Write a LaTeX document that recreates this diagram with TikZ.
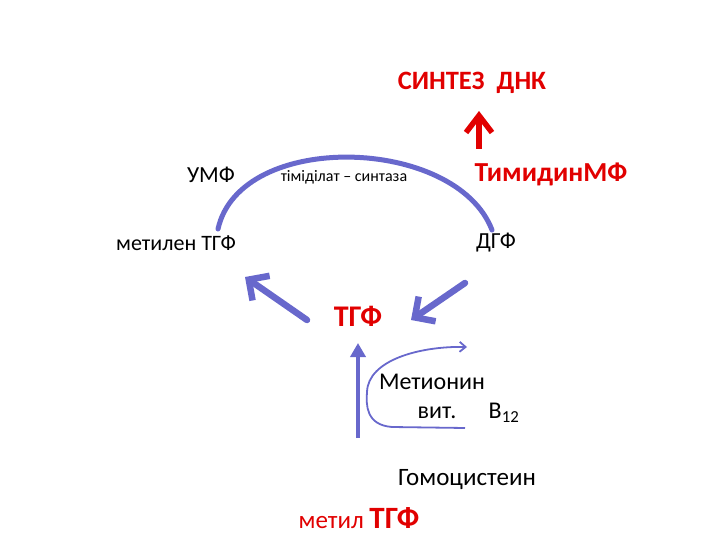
\documentclass[tikz,border=0pt]{standalone}
\usepackage{fontspec}
\setmainfont{Carlito}
\usetikzlibrary{arrows.meta}
\definecolor{arcblue}{RGB}{104,104,204}
\definecolor{dred}{RGB}{225,0,0}
\tikzset{
  lbl/.style={inner sep=0pt, font=\fontsize{23}{27}\selectfont},
  redlbl/.style={lbl, text=dred, font=\fontsize{30}{34}\selectfont\bfseries},
  bigarrow/.style={draw=arcblue, line width=6.5pt, line cap=round, -{Straight Barb[length=15pt, width=30pt, line width=6.5pt]}},
  thinarrow/.style={draw=arcblue, line width=1.8pt, -{Straight Barb[length=6pt, width=10pt]}}
}
\begin{document}
\begin{tikzpicture}[x=1pt,y=-1pt]
\useasboundingbox (0,0) rectangle (720,540);
\node[redlbl, font=\fontsize{26.5}{30}\selectfont\bfseries] (dna) at (472,83) {СИНТЕЗ\ \ ДНК};
\node[lbl] (ump) at (211,175) {УМФ};
\node[lbl, font=\fontsize{16}{19}\selectfont] (ts) at (344,177) {тіміділат – синтаза};
\node[redlbl, font=\fontsize{27.5}{31}\selectfont\bfseries] (tmp) at (551,174) {ТимидинМФ};
\node[lbl, font=\fontsize{22}{26}\selectfont] (mthf) at (176,243) {метилен ТГФ};
\node[lbl] (dhf) at (496,243) {ДГФ};
\node[redlbl] (thf) at (358,316) {ТГФ};
\node[lbl, font=\fontsize{24}{28}\selectfont] (met) at (432,382) {Метионин};
\node[lbl, font=\fontsize{24}{28}\selectfont] (vit) at (437,413) {вит.};
\node[lbl, font=\fontsize{24}{28}\selectfont] (b12) at (504,413) {B$_{\mathrm{12}}$};
\node[lbl, font=\fontsize{25}{29}\selectfont] (hcy) at (467,480) {Гомоцистеин};
\node[lbl, text=dred, font=\fontsize{25}{29}\selectfont] (methyl) at (359,518) {метил {\fontsize{31}{34}\selectfont\bfseries ТГФ}};
\coordinate (rs) at (479,149);
\coordinate (re) at (479,111);
\draw[draw=dred, line width=5.5pt, -{Straight Barb[length=17pt, width=26pt, line width=5.5pt]}] (rs) -- (re);
\coordinate (a1) at (218,229);
\coordinate (a2) at (492,230);
\draw[arcblue, line width=5pt, line cap=round] (a1) .. controls (240,130) and (456,136) .. (a2);
\coordinate (l1) at (307,320);
\coordinate (l2) at (245,277);
\draw[bigarrow] (l1) -- (l2);
\coordinate (r1) at (465,283);
\coordinate (r2) at (411,320);
\draw[bigarrow] (r1) -- (r2);
\coordinate (u1) at (358,438);
\coordinate (u2) at (358,343);
\draw[draw=arcblue, line width=4pt, -{Triangle[length=14pt, width=15pt]}] (u1) -- (u2);
\coordinate (c1) at (465,428);
\coordinate (c2) at (467,347);
\draw[thinarrow] (c1) -- (392,427) .. controls (366,425) and (366,405) .. (367,392)
  .. controls (368,360) and (420,346) .. (c2);
\end{tikzpicture}
\end{document}
